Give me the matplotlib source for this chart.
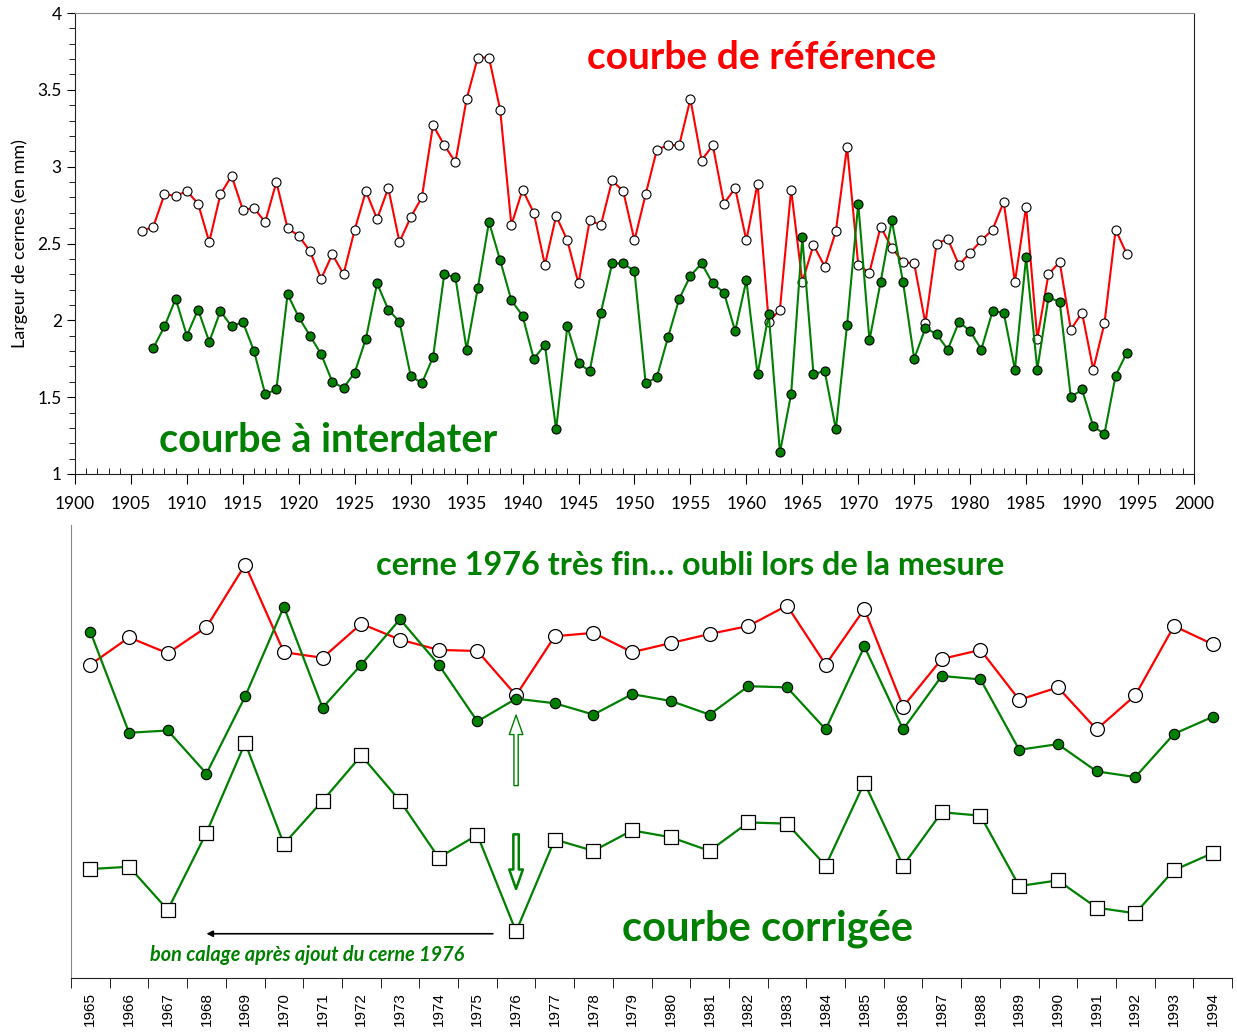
import numpy as np
import matplotlib
matplotlib.use("Agg")
import matplotlib.pyplot as plt
from matplotlib.patches import FancyArrowPatch

plt.rcParams["font.family"] = ["Lato", "DejaVu Sans"]

ROUGE = "#ff0000"
VERT = "#008000"

# largeur des cernes (mm), courbe de reference 1906-1994
annees_ref = np.arange(1906, 1995)
reference = [
    2.58, 2.61, 2.82, 2.81, 2.84, 2.76, 2.51, 2.82, 2.94, 2.72,
    2.73, 2.64, 2.90, 2.60, 2.55, 2.45, 2.27, 2.43, 2.30, 2.59,
    2.84, 2.66, 2.86, 2.51, 2.67, 2.80, 3.27, 3.14, 3.03, 3.44,
    3.71, 3.71, 3.37, 2.62, 2.85, 2.70, 2.36, 2.68, 2.52, 2.24,
    2.65, 2.62, 2.91, 2.84, 2.52, 2.82, 3.11, 3.14, 3.14, 3.44,
    3.04, 3.14, 2.76, 2.86, 2.52, 2.89, 1.99, 2.07, 2.85, 2.25,
    2.49, 2.35, 2.58, 3.13, 2.36, 2.31, 2.61, 2.47, 2.38, 2.37,
    1.98, 2.50, 2.53, 2.36, 2.44, 2.52, 2.59, 2.77, 2.25, 2.74,
    1.88, 2.30, 2.38, 1.94, 2.05, 1.68, 1.98, 2.59, 2.43,
]

# courbe a interdater 1907-1994 (mesure sans le cerne 1976)
annees_int = np.arange(1907, 1995)
interdater = [
    1.82, 1.96, 2.14, 1.90, 2.07, 1.86, 2.06, 1.96, 1.99, 1.80,
    1.52, 1.55, 2.17, 2.02, 1.90, 1.78, 1.60, 1.56, 1.66, 1.88,
    2.24, 2.07, 1.99, 1.64, 1.59, 1.76, 2.30, 2.28, 1.81, 2.21,
    2.64, 2.39, 2.13, 2.03, 1.75, 1.84, 1.29, 1.96, 1.72, 1.67,
    2.05, 2.37, 2.37, 2.32, 1.59, 1.63, 1.89, 2.14, 2.29, 2.37,
    2.24, 2.18, 1.93, 2.26, 1.65, 2.04, 1.14, 1.52, 2.54, 1.65,
    1.67, 1.29, 1.97, 2.76, 1.87, 2.25, 2.65, 2.25, 1.75, 1.95,
    1.91, 1.81, 1.99, 1.93, 1.81, 2.06, 2.05, 1.68, 2.41, 1.68,
    2.15, 2.12, 1.50, 1.55, 1.31, 1.26, 1.64, 1.79,
]

cerne_1976 = 1.10   # cerne tres fin ajoute apres coup
decalage = 1.2      # la courbe corrigee est descendue pour la lisibilite

annees_zoom = np.arange(1965, 1995)

ref_s = dict(zip(annees_ref, reference))
int_s = dict(zip(annees_int, interdater))

ref_zoom = [ref_s[a] for a in annees_zoom]
int_zoom = [int_s[a] for a in annees_zoom]
# avant 1976 les valeurs mesurees sont decalees d'un an
corrigee = [int_s[a + 1] for a in range(1965, 1976)] + [cerne_1976] + \
           [int_s[a] for a in range(1977, 1995)]
corrigee = [v - decalage for v in corrigee]

fig = plt.figure(figsize=(12.37, 10.32), dpi=100)

# ---- graphe du haut ----
ax1 = fig.add_axes([0.0606, 0.5407, 0.9046, 0.4467])
ax1.plot(annees_ref, reference, color=ROUGE, lw=1.5, marker="o", ms=6.5,
         mfc="white", mec="black", mew=0.8, zorder=3)
ax1.plot(annees_int, interdater, color=VERT, lw=1.5, marker="o", ms=6.5,
         mfc=VERT, mec="black", mew=0.8, zorder=3)
ax1.set_xlim(1900, 2000)
ax1.set_ylim(1, 4)
ax1.set_xticks(np.arange(1900, 2001, 5))
ax1.set_xticks(np.arange(1900, 2001, 1), minor=True)
ax1.set_yticks(np.arange(1, 4.01, 0.5))
ax1.set_yticks(np.arange(1, 4.01, 0.1), minor=True)
ax1.set_yticklabels(["1", "1.5", "2", "2.5", "3", "3.5", "4"])
ax1.tick_params(axis="x", which="major", direction="out", length=7, pad=9,
                labelsize=12.5, color="black")
ax1.tick_params(axis="x", which="minor", direction="in", length=4)
ax1.tick_params(axis="y", which="major", direction="out", length=6, labelsize=12.5)
ax1.tick_params(axis="y", which="minor", direction="out", length=4)
ax1.set_ylabel("Largeur de cernes (en mm)", fontsize=13, labelpad=7)
for s in ["left", "bottom", "right"]:
    ax1.spines[s].set_color("#222222")
ax1.spines["top"].set_color("#888888")

ax1.text(1961.4, 3.71, "courbe de référence", color=ROUGE, fontsize=28,
         fontweight="bold", ha="center", va="center")
ax1.text(1922.6, 1.22, "courbe à interdater", color=VERT, fontsize=28.5,
         fontweight="bold", ha="center", va="center")

# ---- graphe du bas : zoom 1965-1994 ----
ax2 = fig.add_axes([0.0574, 0.0523, 0.9386, 0.439])
x = np.arange(len(annees_zoom))
ax2.plot(x, ref_zoom, color=ROUGE, lw=1.6, marker="o", ms=10,
         mfc="white", mec="black", mew=0.9, zorder=3)
ax2.plot(x, int_zoom, color=VERT, lw=1.6, marker="o", ms=7.5,
         mfc=VERT, mec="black", mew=0.8, zorder=4)
ax2.plot(x, corrigee, color=VERT, lw=1.6, marker="s", ms=9.5,
         mfc="white", mec="black", mew=0.9, zorder=3)
ax2.set_xlim(-0.5, len(annees_zoom) - 0.5)
ax2.set_ylim(-0.51, 3.48)
ax2.set_xticks(x)
ax2.set_xticklabels([str(a) for a in annees_zoom], rotation=90,
                    fontfamily="Liberation Sans", fontsize=11)
ax2.set_xticks(np.arange(-0.5, len(annees_zoom)), minor=True)
ax2.tick_params(axis="x", which="major", length=0, pad=10)
ax2.tick_params(axis="x", which="minor", length=7, direction="out")
ax2.set_yticks([])
ax2.spines["top"].set_visible(False)
ax2.spines["right"].set_visible(False)
ax2.spines["left"].set_color("#888888")
ax2.spines["bottom"].set_color("#222222")

i76 = list(annees_zoom).index(1976)
ax2.text(15.5, 3.12, "cerne 1976 très fin… oubli lors de la mesure", color=VERT,
         fontsize=23.3, fontweight="bold", ha="center", va="center")
ax2.text(17.5, -0.08, "courbe corrigée", color=VERT, fontsize=30,
         fontweight="bold", ha="center", va="center")
ax2.text(5.6, -0.31, "bon calage après ajout du cerne 1976", color=VERT,
         fontsize=14.3, fontweight="bold", fontstyle="italic",
         ha="center", va="center")

# fleche noire vers 1968
ax2.annotate("", xy=(3.0, -0.12), xytext=(10.4, -0.12),
             arrowprops=dict(arrowstyle="-|>", color="black", lw=1.2,
                             mutation_scale=9, shrinkA=0, shrinkB=0))

# fleches vertes doubles autour du cerne 1976
haut = FancyArrowPatch((i76, 1.16), (i76, 1.83),
                       arrowstyle="simple,head_length=1.0,head_width=0.7,tail_width=0.22",
                       mutation_scale=14, fc="white", ec=VERT, lw=1.0, zorder=5)
bas = FancyArrowPatch((i76, 0.78), (i76, 0.25),
                      arrowstyle="simple,head_length=1.0,head_width=0.7,tail_width=0.28",
                      mutation_scale=14, fc="white", ec=VERT, lw=1.8, zorder=5)
ax2.add_patch(haut)
ax2.add_patch(bas)

fig.savefig("out.png", dpi=100)
